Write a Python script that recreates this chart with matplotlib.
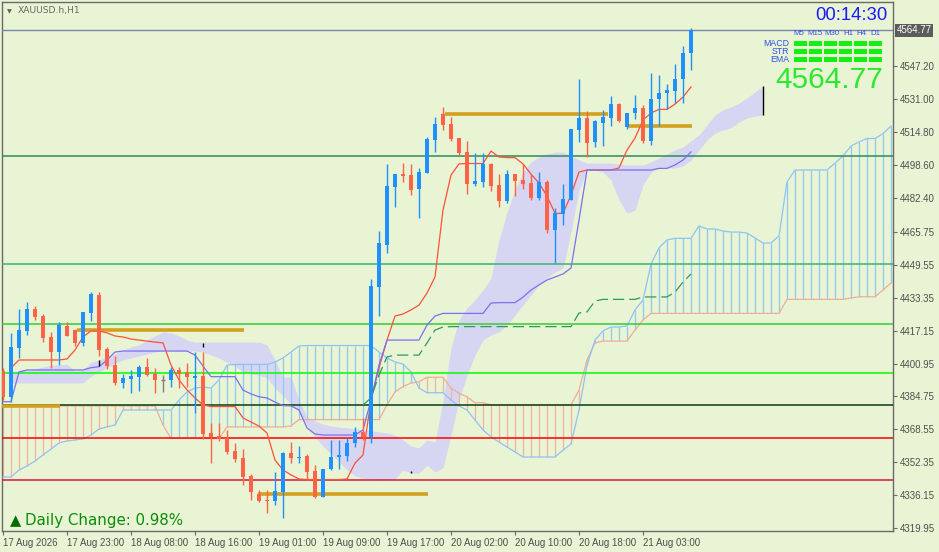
import numpy as np
import matplotlib
matplotlib.use("Agg")
import matplotlib.pyplot as plt
from matplotlib.transforms import blended_transform_factory

# ---------------- data ----------------
O = [4397.3, 4384.7, 4408.7, 4417.1, 4427.8, 4424.2, 4414.0, 4406.8, 4419.3, 4417.3,
     4411.1, 4425.8, 4434.7, 4408.1, 4400.2, 4391.4, 4393.5, 4394.5, 4399.3, 4396.0,
     4392.9, 4392.9, 4397.8, 4396.6, 4394.0, 4394.8, 4366.7, 4365.3, 4364.2, 4358.1,
     4354.5, 4345.7, 4336.8, 4333.9, 4333.2, 4337.9, 4357.1, 4354.5, 4355.5, 4348.1,
     4335.5, 4349.1, 4354.9, 4355.6, 4362.0, 4367.1, 4364.7, 4438.7, 4459.2, 4487.9,
     4494.1, 4493.6, 4486.8, 4494.8, 4510.9, 4523.6, 4518.7, 4511.7, 4505.1, 4489.4,
     4490.4, 4499.1, 4488.7, 4481.0, 4494.1, 4491.2, 4489.9, 4482.3, 4490.4, 4466.6,
     4474.5, 4481.4, 4515.8, 4521.7, 4510.0, 4519.4, 4521.8, 4528.6, 4517.4, 4524.0,
     4526.4, 4510.5, 4530.9, 4533.8, 4535.1, 4540.7, 4553.5]
Hi = [4398.8, 4415.8, 4427.8, 4431.4, 4429.4, 4425.3, 4416.3, 4421.5, 4421.2, 4417.9,
      4426.5, 4436.1, 4436.3, 4409.1, 4404.5, 4395.7, 4397.8, 4400.4, 4403.7, 4398.8,
      4395.2, 4399.4, 4399.1, 4401.1, 4406.6, 4406.6, 4371.6, 4371.6, 4368.3, 4361.7,
      4358.9, 4346.6, 4338.8, 4338.8, 4347.8, 4357.6, 4362.5, 4360.4, 4356.5, 4351.1,
      4349.1, 4363.4, 4363.4, 4364.2, 4369.6, 4374.0, 4442.4, 4466.1, 4499.1, 4494.1,
      4499.4, 4499.1, 4496.9, 4512.5, 4522.0, 4527.2, 4522.0, 4511.8, 4510.5, 4504.6,
      4504.3, 4499.7, 4494.1, 4496.1, 4494.1, 4499.1, 4494.1, 4495.1, 4491.2, 4477.6,
      4489.2, 4516.3, 4540.8, 4525.1, 4520.7, 4525.6, 4532.5, 4529.2, 4524.1, 4533.0,
      4528.1, 4543.9, 4542.8, 4538.4, 4548.2, 4557.1, 4565.9]
Lo = [4383.0, 4381.9, 4403.8, 4415.0, 4422.4, 4411.4, 4398.9, 4400.2, 4414.5, 4409.7,
      4409.7, 4421.9, 4404.5, 4398.3, 4390.4, 4388.9, 4386.3, 4387.6, 4394.8, 4386.6,
      4387.1, 4389.6, 4388.8, 4389.6, 4376.8, 4363.7, 4351.9, 4363.0, 4356.5, 4352.7,
      4341.2, 4333.9, 4332.7, 4327.3, 4331.4, 4324.9, 4351.9, 4351.9, 4343.7, 4334.7,
      4335.3, 4348.6, 4349.1, 4353.2, 4359.8, 4363.4, 4362.0, 4424.3, 4455.2, 4478.1,
      4490.4, 4483.8, 4472.4, 4494.5, 4504.8, 4515.8, 4510.5, 4503.5, 4484.3, 4488.2,
      4487.6, 4485.9, 4477.8, 4480.0, 4483.3, 4486.9, 4481.4, 4481.4, 4465.3, 4450.5,
      4469.1, 4481.4, 4510.0, 4502.4, 4507.6, 4507.9, 4517.7, 4519.9, 4516.4, 4521.0,
      4509.5, 4508.4, 4517.7, 4526.0, 4529.2, 4529.2, 4545.3]
C = [4384.7, 4409.1, 4417.4, 4427.8, 4424.0, 4413.7, 4406.8, 4419.9, 4414.6, 4411.1,
     4426.1, 4435.1, 4407.8, 4399.9, 4391.4, 4393.7, 4394.8, 4399.3, 4395.5, 4392.9,
     4392.9, 4397.8, 4395.7, 4394.5, 4394.8, 4366.3, 4365.0, 4363.7, 4357.6, 4354.0,
     4345.3, 4337.6, 4333.5, 4333.2, 4338.3, 4357.1, 4354.7, 4355.2, 4347.8, 4335.5,
     4349.1, 4354.9, 4356.0, 4362.0, 4367.1, 4364.7, 4439.1, 4460.1, 4488.2, 4494.1,
     4493.2, 4486.3, 4495.3, 4511.3, 4518.7, 4518.2, 4511.2, 4504.6, 4489.2, 4490.7,
     4499.1, 4488.2, 4481.0, 4494.1, 4490.8, 4489.2, 4482.3, 4490.2, 4466.6, 4474.8,
     4481.9, 4516.3, 4521.7, 4509.5, 4520.3, 4522.3, 4528.6, 4520.2, 4524.0, 4526.6,
     4510.5, 4531.0, 4534.0, 4535.4, 4540.8, 4553.5, 4564.77]

tenkan = [np.nan, 4398.8, 4402.7, 4402.7, 4402.7, 4402.7, 4402.7, 4402.7, 4403.2, 4407.6,
          4414.0, 4417.0, 4417.0, 4416.0, 4414.5, 4414.0, 4413.0, 4412.5, 4412.0, 4411.5,
          4411.1, 4400.2, 4392.9, 4388.0, 4384.0, 4380.6, 4379.8, 4379.8, 4379.8, 4379.8,
          4374.2, 4372.2, 4370.2, 4366.8, 4353.5, 4348.6, 4346.2, 4344.2, 4343.9, 4343.9,
          4343.9, 4343.9, 4343.9, 4344.2, 4352.0, 4356.0, 4383.0, 4398.8, 4412.5, 4424.3,
          4425.3, 4427.3, 4429.7, 4435.6, 4443.5, 4476.4, 4493.6, 4499.1, 4499.3, 4499.3,
          4499.3, 4505.4, 4502.5, 4502.2, 4502.2, 4499.1, 4494.1, 4489.7, 4483.3, 4474.8,
          4474.8, 4483.8, 4495.1, 4496.1, 4496.1, 4496.1, 4496.1, 4497.1, 4505.9, 4511.8,
          4520.7, 4524.1, 4525.9, 4525.9, 4528.5, 4532.0, 4536.9]
kijun = [4382.2, 4382.2, 4396.8, 4397.8, 4397.8, 4397.8, 4397.8, 4397.8, 4397.8, 4397.8,
         4397.8, 4398.9, 4399.4, 4402.7, 4406.6, 4407.1, 4407.1, 4407.1, 4407.1, 4407.1,
         4407.1, 4407.1, 4407.1, 4407.1, 4405.1, 4399.7, 4394.5, 4394.5, 4394.5, 4394.5,
         4387.9, 4386.0, 4384.6, 4384.0, 4382.0, 4380.3, 4380.1, 4378.1, 4369.3, 4366.3,
         4365.8, 4365.8, 4365.8, 4365.8, 4365.8, 4368.3, 4383.0, 4400.2, 4412.5, 4412.5,
         4412.5, 4412.5, 4412.5, 4419.9, 4424.3, 4425.6, 4425.6, 4425.6, 4425.6, 4425.6,
         4425.6, 4430.7, 4430.9, 4430.9, 4430.9, 4433.6, 4437.1, 4439.6, 4442.0, 4443.5,
         4445.0, 4447.9, 4471.5, 4496.1, 4496.1, 4496.1, 4496.1, 4496.1, 4496.1, 4496.1,
         4496.1, 4496.1, 4496.9, 4496.9, 4498.6, 4501.0, 4505.0]
span_a = [4380.1, 4380.1, 4380.1, 4380.1, 4380.1, 4380.1, 4380.1, 4380.1, 4380.1, 4380.1,
          4380.1, 4380.1, 4380.1, 4380.1, 4380.1, 4380.1, 4380.1, 4380.1, 4380.1, 4380.1,
          4370.7, 4364.1, 4364.1, 4364.1, 4364.1, 4364.1, 4364.1, 4364.1, 4369.8, 4369.8,
          4369.8, 4369.8, 4369.8, 4369.8, 4369.8, 4369.8, 4370.2, 4373.4, 4373.4, 4373.4,
          4373.4, 4373.4, 4373.4, 4373.4, 4373.4, 4373.4, 4373.4, 4373.4, 4380.6, 4387.0,
          4389.6, 4391.4, 4392.0, 4394.2, 4394.2, 4394.2, 4388.9, 4386.3, 4384.6, 4381.7,
          4381.7, 4380.6, 4380.6, 4380.6, 4380.6, 4380.6, 4380.6, 4380.6, 4380.6, 4380.6,
          4380.6, 4380.6, 4387.9, 4402.7, 4411.1, 4412.0, 4412.0, 4412.0, 4412.0, 4417.4,
          4422.4, 4425.6, 4425.6, 4425.6, 4425.6, 4425.6, 4425.6, 4425.6, 4425.6, 4425.6,
          4425.6, 4425.6, 4425.6, 4425.6, 4425.6, 4425.6, 4425.6, 4425.6, 4432.5, 4432.5,
          4432.5, 4432.5, 4432.5, 4432.5, 4432.5, 4432.5, 4433.2, 4433.8, 4433.8, 4433.8,
          4437.1, 4440.6]
span_b = [4345.2, 4345.2, 4348.6, 4350.6, 4353.0, 4356.0, 4358.9, 4361.9, 4362.9, 4363.4,
          4363.9, 4365.8, 4368.8, 4369.8, 4370.7, 4378.1, 4378.1, 4378.1, 4378.1, 4378.1,
          4378.1, 4378.1, 4383.0, 4387.0, 4388.9, 4389.4, 4388.9, 4392.9, 4400.2, 4400.5,
          4400.5, 4400.5, 4400.5, 4400.5, 4401.7, 4403.7, 4406.6, 4409.6, 4409.8, 4409.8,
          4409.8, 4409.8, 4409.8, 4409.8, 4409.8, 4409.8, 4409.8, 4406.6, 4403.7, 4401.7,
          4400.7, 4396.8, 4388.9, 4386.6, 4386.6, 4386.6, 4383.0, 4380.1, 4378.1, 4373.2,
          4368.3, 4364.9, 4362.4, 4359.9, 4357.5, 4355.0, 4355.0, 4355.0, 4355.0, 4355.0,
          4358.4, 4361.4, 4378.1, 4400.2, 4412.5, 4417.0, 4418.9, 4418.9, 4419.4, 4427.3,
          4432.2, 4449.9, 4457.8, 4461.7, 4462.5, 4462.5, 4462.5, 4468.6, 4467.1, 4467.1,
          4466.1, 4465.6, 4465.6, 4465.1, 4462.7, 4460.2, 4460.2, 4463.7, 4490.2, 4496.1,
          4496.1, 4496.1, 4496.1, 4496.1, 4499.5, 4503.0, 4507.9, 4509.9, 4511.6, 4511.6,
          4514.0, 4517.7]
lag_start = 45
lag_line = [4380.6, 4384.0, 4395.3, 4404.2, 4405.1, 4405.1, 4405.1, 4405.1, 4411.1, 4417.4,
            4418.9, 4419.1, 4419.1, 4419.1, 4419.1, 4419.1, 4419.1, 4419.1, 4419.1, 4419.1,
            4419.1, 4419.1, 4419.1, 4419.1, 4419.1, 4419.1, 4419.1, 4425.8, 4426.3, 4431.7,
            4432.5, 4432.5, 4432.5, 4432.5, 4432.5, 4433.7, 4433.7, 4433.7, 4433.7, 4436.1,
            4441.0, 4445.0]
band_start = 1
band_top = [4396.8, 4397.3, 4397.8, 4398.3, 4399.2, 4400.2, 4400.2, 4400.7, 4397.3, 4397.8,
            4401.7, 4402.7, 4404.2, 4405.6, 4407.6, 4409.1, 4410.1, 4412.5, 4414.5, 4416.5,
            4416.0, 4414.5, 4412.5, 4411.5, 4411.5, 4411.5, 4411.5, 4411.5, 4411.5, 4411.5,
            4411.5, 4411.5, 4410.1, 4402.7, 4394.3, 4394.3, 4383.0, 4374.6, 4372.7, 4371.2,
            4370.2, 4369.7, 4369.3, 4368.8, 4368.3, 4367.8, 4367.3, 4366.8, 4365.8, 4363.4,
            4360.4, 4359.4, 4363.4, 4362.4, 4383.0, 4408.6, 4422.4, 4428.3, 4432.2, 4437.1,
            4443.0, 4461.7, 4475.4, 4486.3, 4495.1, 4500.0, 4502.5, 4504.0, 4504.9, 4504.9,
            4503.0, 4501.0, 4499.5, 4499.5, 4499.5, 4499.5, 4499.0, 4498.6, 4498.6, 4498.6,
            4500.0, 4502.0, 4504.0, 4505.9, 4507.4, 4510.4, 4513.3, 4518.2, 4523.1, 4525.6,
            4527.1, 4529.0, 4531.5, 4534.5, 4537.4]
band_bot = [4391.4, 4391.4, 4391.4, 4391.4, 4391.4, 4391.4, 4391.4, 4391.4, 4391.4, 4391.4,
            4394.8, 4396.8, 4398.8, 4401.2, 4402.7, 4403.7, 4404.7, 4405.6, 4406.6, 4407.6,
            4407.6, 4407.1, 4407.1, 4407.1, 4406.6, 4405.1, 4403.7, 4401.7, 4399.7, 4396.8,
            4395.8, 4395.3, 4393.9, 4388.9, 4385.0, 4381.1, 4377.1, 4370.7, 4364.8, 4360.4,
            4356.5, 4352.5, 4348.6, 4345.7, 4344.7, 4344.2, 4343.7, 4343.7, 4344.2, 4348.6,
            4347.1, 4347.1, 4351.0, 4347.6, 4349.6, 4365.8, 4383.0, 4395.3, 4405.1, 4412.5,
            4415.0, 4416.4, 4419.9, 4424.8, 4429.7, 4434.6, 4439.6, 4443.0, 4446.0, 4447.9,
            4465.6, 4486.3, 4496.1, 4496.1, 4495.1, 4491.2, 4481.4, 4474.9, 4476.4, 4488.7,
            4495.1, 4497.1, 4497.1, 4497.1, 4498.1, 4501.0, 4505.9, 4510.9, 4514.3, 4515.8,
            4516.8, 4519.7, 4521.7, 4522.6, 4523.1]
marks = [(12, 4399.7, 4402.7), (25, 4409.2, 4411.2), (51, 4347.0, 4348.1), (95, 4523.1, 4537.4)]

levels = [4502.98, 4449.89, 4420.39, 4396.54, 4380.57, 4364.19, 4343.55]
level_colors = ["#2e8b57", "#3cb371", "#32cd32", "#00ff00", "#0b3d0b", "#ff0000", "#dc143c"]
zones = [(4523.5, 55.2, 75.6), (4517.7, 78.1, 86.1), (4417.3, 9.2, 30.1),
         (4380.1, -0.2, 7.1), (4336.7, 31.9, 53.1)]
last_price = 4564.77

ytick_vals = [4319.95, 4336.15, 4352.35, 4368.55, 4384.75, 4400.95, 4417.15, 4433.35,
              4449.55, 4465.75, 4482.40, 4498.60, 4514.80, 4531.00, 4547.20]
xtick_bars = [0, 8, 16, 24, 32, 40, 48, 56, 64, 72, 80]
xtick_labels = ["17 Aug 2026", "17 Aug 23:00", "18 Aug 08:00", "18 Aug 16:00", "19 Aug 01:00",
                "19 Aug 09:00", "19 Aug 17:00", "20 Aug 02:00", "20 Aug 10:00", "20 Aug 18:00",
                "21 Aug 03:00"]
tf_labels = ["M5", "M15", "M30", "H1", "H4", "D1"]
sig_rows = ["MACD", "STR", "EMA"]

# ---------------- figure ----------------
W, H = 939, 552
BG = "#e8f4d4"
fig = plt.figure(figsize=(W / 100, H / 100), dpi=100)
fig.patch.set_facecolor(BG)
PL, PR, PT, PB = 2, 893, 2, 531
ax = fig.add_axes([PL / W, 1 - PB / H, (PR - PL) / W, (PB - PT) / H])
ax.set_facecolor(BG)
ax.set_xlim(-0.125, 111.25)
ax.set_ylim(4318.62, 4578.70)

UP, DN, DOJI = "#1e90ff", "#ff6347", "#808080"
AXC = "#6a6a6a"

# lavender band
xb = np.arange(band_start, band_start + len(band_top))
ax.fill_between(xb, band_bot, band_top, color="#d6d6f2", lw=0, zorder=1)

# ichimoku cloud hatch
xs = np.arange(len(span_a))
sa, sb = np.array(span_a), np.array(span_b)
hcol = ["#f2b49c" if a >= b else "#92c8f2" for a, b in zip(sa, sb)]
ax.vlines(xs, sa, sb, colors=hcol, lw=0.9, zorder=2)
ax.plot(xs, sa, color="#f2ad94", lw=0.9, zorder=3)
ax.plot(xs, sb, color="#8ec4f4", lw=0.9, zorder=3)

# horizontal levels
ax.axhline(last_price, color="#7a88a8", lw=1.0, zorder=4)
for lv, lc in zip(levels, level_colors):
    ax.axhline(lv, color=lc, lw=1.1, zorder=4)
for p, a0, a1 in zones:
    ax.hlines(p, a0, a1, color="#d4a020", lw=2.6, zorder=5)

# lines
xi = np.arange(len(tenkan))
ax.plot(xi, tenkan, color="#ff5038", lw=0.9, zorder=5)
ax.plot(xi, kijun, color="#7b70f0", lw=0.9, zorder=5)
xl = np.arange(lag_start, lag_start + len(lag_line))
ax.plot(xl, lag_line, color="#2e9b57", lw=0.9, ls=(0, (9, 4)), zorder=5)
for b, lo, hi in marks:
    ax.vlines(b, lo, hi, color="black", lw=1.0, zorder=6)

# candles
for i, (o, h, l, c) in enumerate(zip(O, Hi, Lo, C)):
    col = UP if c > o else (DN if c < o else DOJI)
    ax.vlines(i, l, h, color=col, lw=1.0, zorder=7)
    if c == o:
        ax.hlines(o, i - 0.3, i + 0.3, color=col, lw=1.0, zorder=7)
    else:
        ax.bar(i, abs(c - o), bottom=min(o, c), width=0.62, color=col, lw=0, zorder=7)

# axes styling
for s in ax.spines.values():
    s.set_color(AXC)
    s.set_linewidth(1.0)
ax.yaxis.tick_right()
ax.set_yticks(ytick_vals)
ax.set_yticklabels([f"{v:.2f}" for v in ytick_vals])
ax.set_xticks(xtick_bars)
ax.set_xticklabels(xtick_labels)
ax.tick_params(axis="both", direction="out", length=3, width=0.8, color=AXC,
               labelcolor="#505050", labelsize=7, pad=2)
for lab in ax.get_xticklabels():
    lab.set_ha("left")
    lab.set_fontfamily("Liberation Sans")
for lab in ax.get_yticklabels():
    lab.set_fontfamily("Liberation Sans")

tr = blended_transform_factory(ax.transAxes, ax.transData)
ax.text(1.004, last_price, f"{last_price:.2f}", transform=tr, ha="left", va="center",
        fontsize=7, color="white", family="Liberation Sans", zorder=10,
        bbox=dict(boxstyle="square,pad=0.18", fc="#5c5c5c", ec="none"))

def px(x, y):
    return x / W, 1 - y / H

fig.text(*px(7, 11.5), "▼", fontsize=4.5, color="#606060", va="center", ha="left")
fig.text(*px(18, 11), "XAUUSD.h,H1", fontsize=6.6, color="#6a6a6a", va="center", ha="left")
fig.text(*px(888, 15), "00:14:30", fontsize=13.3, color="#1a1aff", va="center", ha="right",
         family="Liberation Sans")
tf_cx = [799, 815.5, 832, 848, 861.5, 875.5]
for t, cx in zip(tf_labels, tf_cx):
    fig.text(*px(cx, 33.5), t, fontsize=5.7, color="#3050e8", va="center", ha="center",
             family="Liberation Sans")
for r, name in enumerate(sig_rows):
    yy = 43.5 + 8 * r
    fig.text(*px(789, yy), name, fontsize=6.3, color="#3050e8", va="center", ha="right",
             family="Liberation Sans")
    for k in range(6):
        x0 = 793.5 + 15 * k
        fig.patches.append(plt.Rectangle(px(x0, yy + 2), 13 / W, 4 / H,
                                         transform=fig.transFigure, color="#14f014", lw=0))
fig.text(*px(883, 79.5), f"{last_price:.2f}", fontsize=21.5, color="#2ee82e", va="center",
         ha="right", family="Liberation Sans")
fig.text(*px(10, 520.5), "▲", fontsize=10.5, color="#006e00", va="center", ha="left")
fig.text(*px(25, 520.5), "Daily Change: 0.98%", fontsize=10.8, color="#0c8c0c", va="center",
         ha="left")

fig.savefig("out.png", dpi=100, facecolor=BG)
